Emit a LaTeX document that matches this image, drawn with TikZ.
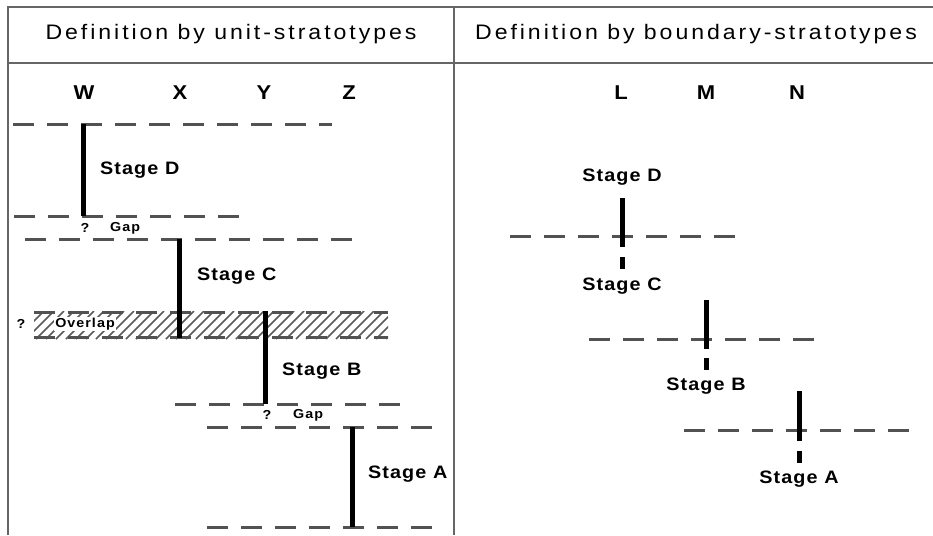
\documentclass[tikz,border=0pt]{standalone}
\usepackage{fontspec}
\setmainfont{Liberation Sans}
\newfontfamily\hdrfont[FakeStretch=1.1,LetterSpace=14]{Liberation Sans}
\newfontfamily\lblfont[FakeStretch=1.1,LetterSpace=6]{Liberation Sans}
\newfontfamily\smlfont[FakeStretch=1.1,LetterSpace=8]{Liberation Sans}
\begin{document}
\begin{tikzpicture}[x=1pt,y=-1pt,
  frame/.style={draw=black!60, line width=2pt},
  strat/.style={draw=black!68, line width=3pt, dash pattern=on 21pt off 13pt},
  bar/.style={draw=black, line width=5pt},
  hatch/.style={draw=black!65, line width=1.5pt},
  hdr/.style={font=\hdrfont\fontsize{21}{23}\selectfont, inner sep=0pt},
  col/.style={font=\lblfont\bfseries\fontsize{20}{22}\selectfont, inner sep=0pt},
  stage/.style={font=\lblfont\bfseries\fontsize{18}{20}\selectfont, inner sep=0pt},
  small/.style={font=\smlfont\bfseries\fontsize{13}{15}\selectfont, inner sep=0pt}]
\useasboundingbox (0,0) rectangle (933,535);
% frame
\draw[frame] (8,535) -- (8,7) -- (933,7);
\draw[frame] (8,63) -- (933,63);
\draw[frame] (454,7) -- (454,535);
% headers
\node[hdr] (h1) at (231,34) {Definition by unit-stratotypes};
\node[hdr] (h2) at (696,34) {Definition by boundary-stratotypes};
% column letters
\node[col] (W) at (84,93) {W};
\node[col] (X) at (180,93) {X};
\node[col] (Y) at (264,93) {Y};
\node[col] (Z) at (349,93) {Z};
\node[col] (L) at (621,93) {L};
\node[col] (M) at (706,93) {M};
\node[col] (N) at (797,93) {N};
% ---- left: unit stratotypes
% overlap band
\begin{scope}
\clip (34,311) rectangle (388,339);
\foreach \i in {0,...,40} \draw[hatch] (6+\i*10,339) -- ++(28,-28);
\end{scope}
\draw[strat] (34,312.5) -- (388,312.5);
\draw[strat] (34,337.5) -- (388,337.5);
\node[small, fill=white, inner sep=1pt] (ov) at (85,324) {Overlap};
\node[small] (q3) at (21,324) {?};
% horizons
\draw[strat] (13,124) -- (332,124);
\draw[strat] (14,216) -- (242,216);
\draw[strat] (25,239) -- (356,239);
\draw[strat] (175,404) -- (404,404);
\draw[strat] (207,427) -- (436,427);
\draw[strat] (207,527) -- (436,527);
% stage bars
\coordinate (d1) at (83,124); \coordinate (d2) at (83,216);
\coordinate (c1) at (179,239); \coordinate (c2) at (179,338);
\coordinate (b1) at (265,311); \coordinate (b2) at (265,404);
\coordinate (a1) at (352,427); \coordinate (a2) at (352,527);
\draw[bar] (d1) -- (d2);
\draw[bar] (c1) -- (c2);
\draw[bar] (b1) -- (b2);
\draw[bar] (a1) -- (a2);
\node[stage, anchor=west] (sD) at (100,170) {Stage D};
\node[stage, anchor=west] (sC) at (197,276) {Stage C};
\node[stage, anchor=west] (sB) at (282,371) {Stage B};
\node[stage, anchor=west] (sA) at (368,474) {Stage A};
\node[small] (q1) at (85,228) {?};
\node[small, anchor=west] (g1) at (110,228) {Gap};
\node[small] (q2) at (267,415) {?};
\node[small, anchor=west] (g2) at (293,415) {Gap};
% ---- right: boundary stratotypes
\draw[strat] (510,236) -- (737,236);
\draw[strat] (589,339) -- (816,339);
\draw[strat] (684,430) -- (913,430);
\coordinate (l1) at (622,198); \coordinate (l2) at (622,247);
\coordinate (l3) at (622,257); \coordinate (l4) at (622,269);
\coordinate (m1) at (706,300); \coordinate (m2) at (706,349);
\coordinate (m3) at (706,358); \coordinate (m4) at (706,370);
\coordinate (n1) at (799,391); \coordinate (n2) at (799,441);
\coordinate (n3) at (799,451); \coordinate (n4) at (799,463);
\draw[bar] (l1) -- (l2); \draw[bar] (l3) -- (l4);
\draw[bar] (m1) -- (m2); \draw[bar] (m3) -- (m4);
\draw[bar] (n1) -- (n2); \draw[bar] (n3) -- (n4);
\node[stage] (rD) at (622,177) {Stage D};
\node[stage] (rC) at (622,286) {Stage C};
\node[stage] (rB) at (706,386) {Stage B};
\node[stage] (rA) at (799,479) {Stage A};
\end{tikzpicture}
\end{document}
